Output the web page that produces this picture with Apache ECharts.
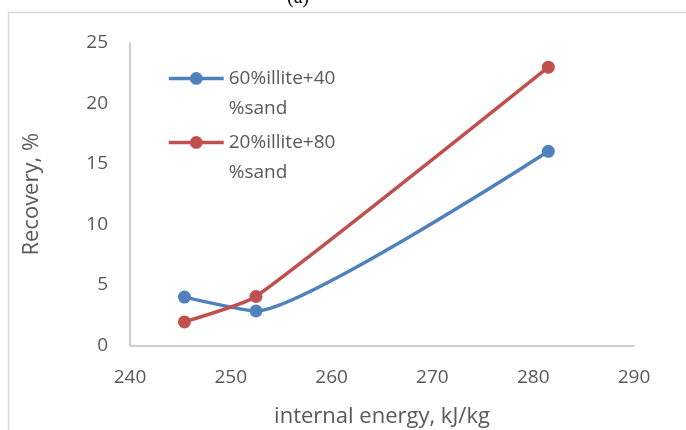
<html>
<head>
<script src="https://cdn.jsdelivr.net/npm/echarts@6/dist/echarts.min.js"></script>
</head>
<body style="margin:0">
	<div id="main" style="height: 430px; width: 686px;"></div>

	<script type="text/javascript">
		// internal energy, kJ/kg
		var energy = [ 245.4, 252.5, 281.5 ];
		// Recovery, %
		var illite60 = [ 4.0, 2.85, 16.05 ];
		var illite20 = [ 1.95, 4.05, 23.0 ];
		var seriesNames = [ '60%illite+40%sand', '20%illite+80%sand' ];
		var yTicks = [ 0, 5, 10, 15, 20, 25 ];
		var xTicks = [ 240, 250, 260, 270, 280, 290 ];

		function pairs(xs, ys) {
			var out = [];
			for (var i = 0; i < xs.length; i++) {
				out.push([ xs[i], ys[i] ]);
			}
			return out;
		}

		var myChart = echarts.init(document.getElementById('main'));
		var font = 'Open Sans';
		var grey = '#595959';

		// legend text wraps like excel: first line level with the icon
		function legendFor(name, top) {
			return {
				data : [ name ],
				left : 167,
				top : top,
				padding : 0,
				itemWidth : 55,
				itemHeight : 16,
				itemGap : 0,
				lineStyle : { width : 3.5 },
				formatter : function(n) {
					return '\n' + n.replace('+40%', '+40\n%').replace('+80%', '+80\n%');
				},
				textStyle : {
					fontFamily : font,
					fontSize : 19,
					color : grey,
					lineHeight : 30
				}
			};
		}

		var option = {
			animation : false,
			graphic : [ {
				type : 'rect',
				shape : { x : 8.5, y : 12.5, width : 800, height : 600 },
				style : { fill : 'none', stroke : '#d9d9d9', lineWidth : 1.5 },
				silent : true
			}, {
				type : 'text',
				left : 287,
				top : -18,
				style : {
					text : '(a)',
					fontFamily : 'Liberation Serif',
					fontSize : 20,
					fill : '#000'
				}
			} ],
			legend : [ legendFor(seriesNames[0], 33), legendFor(seriesNames[1], 97) ],
			grid : {
				left : 130,
				right : 52,
				top : 43,
				bottom : 84.5,
				outerBoundsMode : 'none'
			},
			xAxis : {
				type : 'value',
				min : xTicks[0],
				max : xTicks[xTicks.length - 1],
				interval : 10,
				name : 'internal energy, kJ/kg',
				nameLocation : 'middle',
				nameGap : 53,
				nameTextStyle : {
					fontFamily : font,
					fontSize : 22,
					color : grey
				},
				axisLine : { lineStyle : { color : '#bfbfbf', width : 1.5 } },
				axisTick : { show : false },
				splitLine : { show : false },
				axisLabel : {
					margin : 17,
					fontFamily : font,
					fontSize : 19,
					color : grey
				}
			},
			yAxis : {
				type : 'value',
				min : yTicks[0],
				max : yTicks[yTicks.length - 1],
				interval : 5,
				name : 'Recovery, %',
				nameLocation : 'middle',
				nameGap : 80,
				nameTextStyle : {
					fontFamily : font,
					fontSize : 22,
					color : grey
				},
				axisLine : { show : true, lineStyle : { color : '#bfbfbf', width : 1.5 } },
				axisTick : { show : false },
				splitLine : { show : false },
				axisLabel : {
					margin : 22,
					fontFamily : font,
					fontSize : 19,
					color : grey
				}
			},
			series : [ {
				name : seriesNames[0],
				type : 'line',
				smooth : 0.15,
				symbol : 'circle',
				symbolSize : 13,
				color : '#4f81bd',
				lineStyle : { width : 3.5 },
				data : pairs(energy, illite60)
			}, {
				name : seriesNames[1],
				type : 'line',
				smooth : 0.15,
				symbol : 'circle',
				symbolSize : 13,
				color : '#c0504d',
				lineStyle : { width : 3.5 },
				data : pairs(energy, illite20)
			} ]
		};
		myChart.setOption(option);
	</script>
</body>
</html>
